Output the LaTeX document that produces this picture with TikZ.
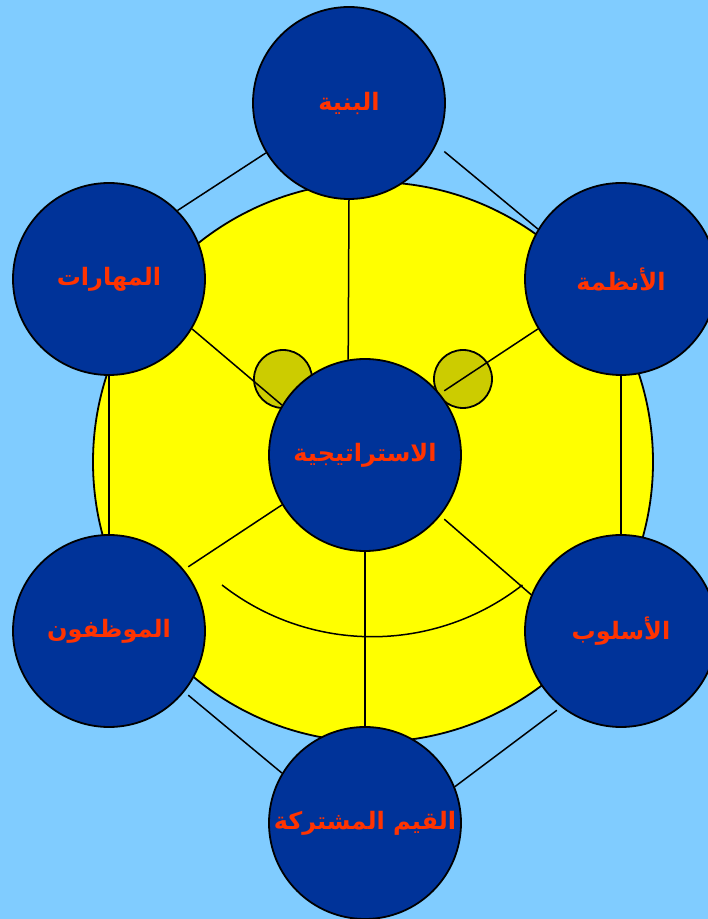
\documentclass[tikz,border=0pt]{standalone}
\usepackage{fontspec}
\usetikzlibrary{calc}
\newfontfamily\arabicfont[Script=Arabic]{DejaVu Sans}
\TeXXeTstate=1
\definecolor{skyback}{RGB}{128,204,255}
\definecolor{ringfill}{RGB}{255,255,0}
\definecolor{navyfill}{RGB}{0,51,153}
\definecolor{olivefill}{RGB}{204,204,0}
\definecolor{labelred}{RGB}{255,51,0}

\begin{document}
\begin{tikzpicture}[x=1pt, y=1pt,
  disc/.style={circle, draw, line width=1.8pt, fill=navyfill, minimum size=192pt, inner sep=0pt,
    text=labelred, font=\arabicfont\bfseries\fontsize{24}{28}\selectfont},
  dot/.style={circle, draw, line width=1.8pt, fill=olivefill, minimum size=58pt, inner sep=0pt},
  link/.style={line width=1.5pt}]

\useasboundingbox (0,0) rectangle (708,919);
\clip (0,0) rectangle (708,919);
\fill[skyback] (0,0) rectangle (708,919);

% Yellow ring and small circles
\node[circle, draw, line width=1.8pt, fill=ringfill, minimum size=560pt, inner sep=0pt] at (373,457) (ring) {};
\node[dot] at (283,540) (dotL) {};
\node[dot] at (463,540) (dotR) {};

% Seven circles
\node[disc] at (365,464) (st) {\beginR الاستراتيجية\endR};
\node[disc] at (349,816) (bn) {\beginR البنية\endR};
\node[disc] at (621,640) (nz) {\beginR الأنظمة\endR};
\node[disc] at (109,640) (mh) {\beginR المهارات\endR};
\node[disc] at (109,288) (mw) {\beginR الموظفون\endR};
\node[disc] at (621,288) (us) {\beginR الأسلوب\endR};
\node[disc] at (365,96) (qm) {\beginR القيم المشتركة\endR};

% Connections
\draw[link] (bn.211) -- (mh.45);
\draw[link] ($(bn)+(-27:107)$) -- (nz.149);
\draw[link] (bn.south) -- (st.100);
\draw[link] (mh.south) -- (mw.north);
\draw[link] (nz.south) -- (us.north);
\draw[link] (mh.-31) -- (st.149);
\draw[link] (nz.211) -- ($(st)+(39:102)$);
\draw[link] (st.211) -- ($(mw)+(39:102)$);
\draw[link] ($(st)+(-39:102)$) -- (us.158);
\draw[link] (st.south) -- (qm.north);
\draw[link] ($(mw)+(-39:102)$) -- (qm.149);
\draw[link] ($(us)+(231:102)$) -- (qm.22);

% Arc below the centre
\coordinate (arcL) at (222,334);
\draw[link] (arcL) arc[start angle=232, end angle=308, radius=244];
\end{tikzpicture}
\end{document}
